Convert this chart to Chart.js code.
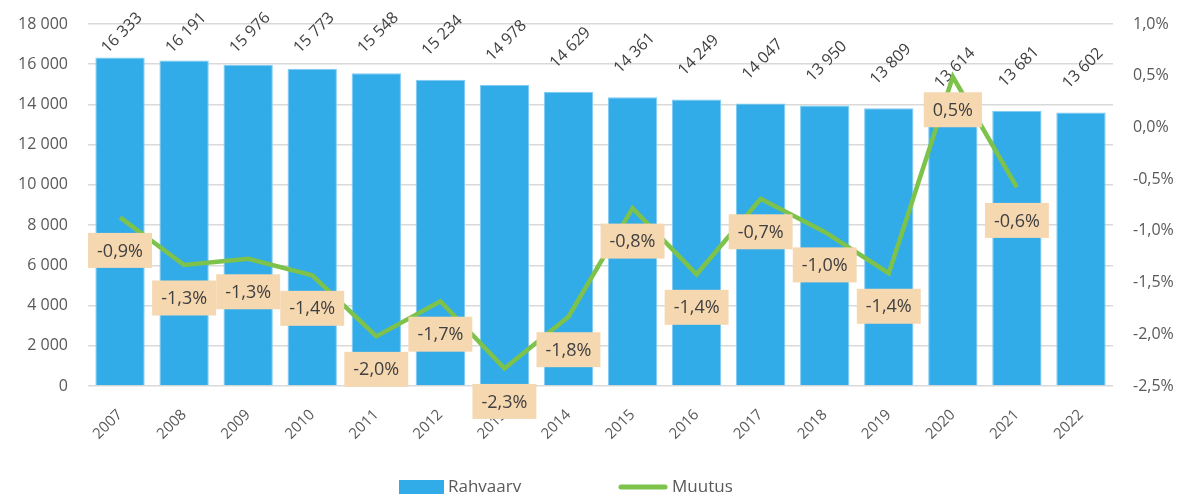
<!DOCTYPE html>
<html>
<head>
<meta charset="utf-8">
<script src="https://cdn.jsdelivr.net/npm/chart.js@4.4.0/dist/chart.umd.min.js"></script>
<style>
  html, body { margin: 0; padding: 0; background: #fff; }
  #wrap { width: 1189px; height: 495px; }
</style>
</head>
<body>
<div id="wrap"><canvas id="chart"></canvas></div>
<script>
// andmed
const years = ['2007', '2008', '2009', '2010', '2011', '2012', '2013', '2014',
               '2015', '2016', '2017', '2018', '2019', '2020', '2021', '2022'];
const population = [16333, 16191, 15976, 15773, 15548, 15234, 14978, 14629,
                    14361, 14249, 14047, 13950, 13809, 13614, 13681, 13602];
const change = [-0.87, -1.33, -1.27, -1.43, -2.02, -1.68, -2.33, -1.83,
                -0.78, -1.42, -0.69, -1.01, -1.41, 0.49, -0.58, null];
const seriesNames = ['Rahvaarv', 'Muutus'];
const leftAxis = { min: 0, max: 18000, step: 2000 };
const rightAxis = { min: -2.5, max: 1.0, step: 0.5 };

const FONT = '"Open Sans", "DejaVu Sans", sans-serif';
const BLUE = '#32abe9';
const GREEN = '#7cc24b';
const BEIGE = '#f5d7b0';

const fmtThousands = (v) => String(v).replace(/\B(?=(\d{3})+(?!\d))/g, ' ');
const fmtPct = (v) => v.toFixed(1).replace('.', ',') + '%';

const valueLabels = {
  id: 'valueLabels',
  afterDatasetDraw(chart, args) {
    const ctx = chart.ctx;
    const top = chart.chartArea.top;
    if (args.index === 0) {
      // arvud tulpade kohal, kaldu
      args.meta.data.forEach((bar, i) => {
        const cy = Math.max(bar.y - 44, top + 9);
        ctx.save();
        ctx.translate(bar.x + 2, cy);
        ctx.rotate(-45 * Math.PI / 180);
        ctx.font = '16px ' + FONT;
        ctx.fillStyle = '#404040';
        ctx.textAlign = 'center';
        ctx.textBaseline = 'middle';
        ctx.fillText(fmtThousands(population[i]), 0, 0);
        ctx.restore();
      });
    }
    if (args.index === 1) {
      // muutuse sildid kastides
      ctx.save();
      ctx.font = '18px ' + FONT;
      ctx.textAlign = 'center';
      ctx.textBaseline = 'middle';
      args.meta.data.forEach((pt, i) => {
        if (change[i] === null) return;
        const txt = fmtPct(change[i]);
        const w = ctx.measureText(txt).width + 18;
        const h = 35;
        const cx = pt.x, cy = pt.y + 33;
        ctx.fillStyle = BEIGE;
        ctx.fillRect(cx - w / 2, cy - h / 2, w, h);
        ctx.fillStyle = '#404040';
        ctx.fillText(txt, cx, cy + 1);
      });
      ctx.restore();
    }
  },
  afterDraw(chart) {
    // legend all
    const ctx = chart.ctx;
    const y = 487;
    ctx.save();
    ctx.font = '17px ' + FONT;
    ctx.textBaseline = 'middle';
    ctx.fillStyle = BLUE;
    let x = 399;
    ctx.fillRect(x, y - 7, 45, 14);
    ctx.fillStyle = '#595959';
    ctx.fillText(seriesNames[0], x + 49, y);
    x = 621;
    ctx.strokeStyle = GREEN;
    ctx.lineWidth = 5;
    ctx.lineCap = 'round';
    ctx.beginPath();
    ctx.moveTo(x, y);
    ctx.lineTo(x + 44, y);
    ctx.stroke();
    ctx.fillText(seriesNames[1], x + 51, y);
    ctx.restore();
  }
};

new Chart(document.getElementById('chart'), {
  data: {
    labels: years,
    datasets: [
      {
        type: 'bar',
        label: seriesNames[0],
        data: population,
        backgroundColor: BLUE,
        borderColor: '#7fcbf2',
        borderWidth: 1,
        barPercentage: 0.77,
        categoryPercentage: 1,
        yAxisID: 'y',
        order: 2,
      },
      {
        type: 'line',
        label: seriesNames[1],
        data: change,
        borderColor: GREEN,
        backgroundColor: GREEN,
        borderWidth: 4.5,
        pointRadius: 0,
        tension: 0,
        spanGaps: false,
        yAxisID: 'y1',
        order: 1,
      },
    ],
  },
  options: {
    responsive: true,
    maintainAspectRatio: false,
    animation: false,
    layout: { padding: { top: 24, left: 0, right: 0, bottom: 0 } },
    plugins: {
      legend: { display: false },
      tooltip: { enabled: false },
    },
    scales: {
      x: {
        grid: { display: false },
        border: { display: false },
        ticks: {
          color: '#595959',
          font: { family: FONT, size: 15 },
          minRotation: 45,
          maxRotation: 45,
          padding: 12,
        },
        afterFit(scale) { scale.height = 109; },
      },
      y: {
        position: 'left',
        min: leftAxis.min,
        max: leftAxis.max,
        border: { display: false },
        grid: { color: '#d9d9d9', lineWidth: 1.5, drawTicks: true, tickLength: 20, tickColor: 'transparent' },
        ticks: {
          stepSize: leftAxis.step,
          color: '#595959',
          font: { family: FONT, size: 16 },
          padding: 0,
          callback: (v) => fmtThousands(v),
        },
        afterFit(scale) { scale.width = 88; },
      },
      y1: {
        position: 'right',
        min: rightAxis.min,
        max: rightAxis.max,
        border: { display: false },
        grid: { display: true, drawOnChartArea: false, color: 'transparent', drawTicks: true, tickLength: 20 },
        ticks: {
          stepSize: rightAxis.step,
          color: '#595959',
          font: { family: FONT, size: 16 },
          padding: 0,
          callback: (v) => fmtPct(v),
        },
        afterFit(scale) { scale.width = 76; },
      },
    },
  },
  plugins: [valueLabels],
});
</script>
</body>
</html>
